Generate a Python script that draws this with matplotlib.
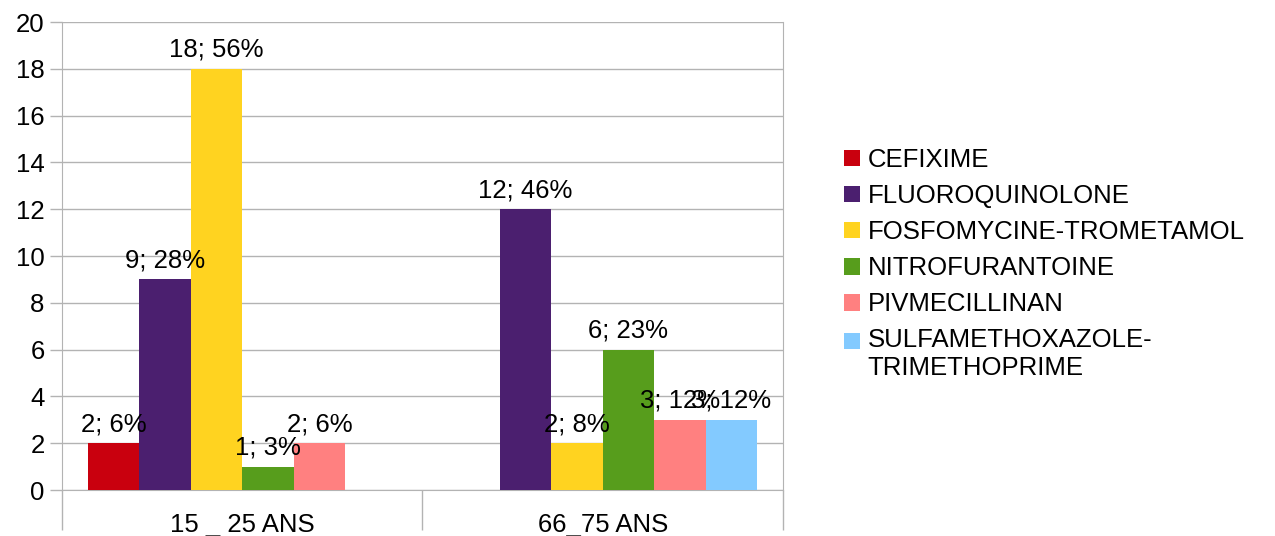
import matplotlib.pyplot as plt
import numpy as np

plt.rcParams['font.family'] = ['Liberation Sans', 'DejaVu Sans']

groups = ['15 _ 25 ANS', '66_75 ANS']
drugs = ['CEFIXIME', 'FLUOROQUINOLONE', 'FOSFOMYCINE-TROMETAMOL',
         'NITROFURANTOINE', 'PIVMECILLINAN', 'SULFAMETHOXAZOLE-\nTRIMETHOPRIME']
counts = {
    'CEFIXIME': [2, 0],
    'FLUOROQUINOLONE': [9, 12],
    'FOSFOMYCINE-TROMETAMOL': [18, 2],
    'NITROFURANTOINE': [1, 6],
    'PIVMECILLINAN': [2, 3],
    'SULFAMETHOXAZOLE-\nTRIMETHOPRIME': [0, 3],
}
colors = ['#c9000e', '#4b1f6f', '#ffd320', '#579d1c', '#ff8080', '#83caff']

totals = np.sum([counts[d] for d in drugs], axis=0)

fig = plt.figure(figsize=(12.75, 5.36), dpi=100)
ax = fig.add_axes([62/1275, 1-490/536, (783-62)/1275, (490-22)/536])

x = np.arange(len(groups))
w = 1/7
fs = 18.5
for i, d in enumerate(drugs):
    vals = counts[d]
    bars = ax.bar(x + (i - 2.5)*w, vals, w, color=colors[i], label=d, zorder=3)
    labs = ['' if v == 0 else f'{v}; {round(100*v/t)}%' for v, t in zip(vals, totals)]
    ax.bar_label(bars, labels=labs, padding=5, fontsize=fs, zorder=4)

ax.set_xlim(-0.5, 1.5)
ax.set_ylim(0, 20)
ax.set_yticks(range(0, 21, 2))
ax.grid(axis='y', color='#b3b3b3', lw=1, zorder=0)

ax.set_xticks([-0.5, 0.5, 1.5])
ax.set_xticklabels([])
ax.set_xticks(x, minor=True)
ax.set_xticklabels(groups, minor=True)
ax.tick_params(axis='x', which='major', length=29, color='#b3b3b3', width=1)
ax.tick_params(axis='x', which='minor', length=0, pad=16.5, labelsize=fs)
ax.tick_params(axis='y', length=8.5, color='#b3b3b3', width=1, pad=4, labelsize=fs)

for s in ['left', 'right', 'bottom']:
    ax.spines[s].set_color('#b3b3b3')
ax.spines['top'].set_visible(False)

leg = fig.legend(loc='upper left', bbox_to_anchor=(844/1275, 1-148/536), frameon=False,
                 fontsize=fs, handlelength=0.62, handleheight=0.62, handletextpad=0.3,
                 labelspacing=0.47, borderpad=0, borderaxespad=0)
# square of the two-line entry sits on its first line
h = leg.legend_handles[-1]
h.set_y(h.get_y() + 10)

fig.savefig('out.png', dpi=100)
